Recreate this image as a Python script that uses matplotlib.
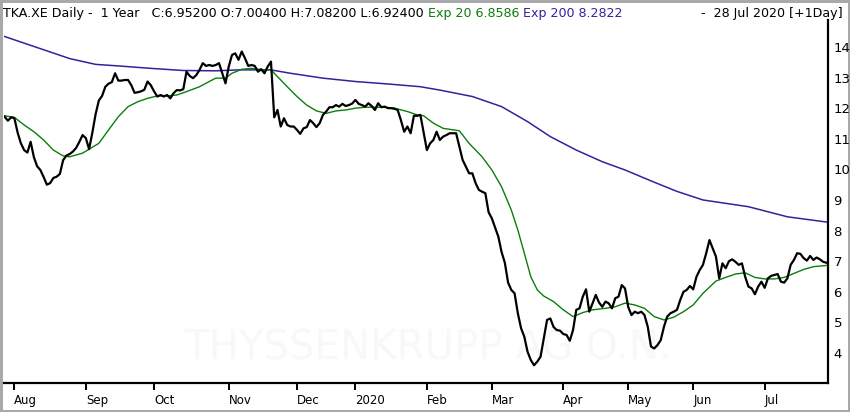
import matplotlib
matplotlib.use("Agg")
import matplotlib.pyplot as plt
import pandas as pd

# trading calendar (XETRA), 29 Jul 2019 .. 28 Jul 2020
holidays = ['2019-12-24', '2019-12-25', '2019-12-26', '2019-12-31',
            '2020-01-01', '2020-04-10', '2020-04-13', '2020-05-01']
days = pd.bdate_range('2019-07-29', '2020-07-28')
days = days[~days.isin(pd.to_datetime(holidays))]

# daily close
close = [
    11.72, 11.59, 11.70, 11.67, 11.20, 10.85, 10.63, 10.55, 10.90, 10.40,
    10.10, 9.98, 9.75, 9.50, 9.55, 9.72, 9.76, 9.85, 10.30, 10.45,
    10.50, 10.58, 10.70, 10.90, 11.12, 11.02, 10.66, 11.20, 11.80, 12.25,
    12.40, 12.70, 12.80, 12.85, 13.14, 12.90, 12.90, 12.92, 12.92, 12.75,
    12.50, 12.52, 12.55, 12.60, 12.87, 12.75, 12.55, 12.38, 12.43, 12.38,
    12.43, 12.32, 12.49, 12.59, 12.58, 12.62, 13.19, 13.05, 12.98, 13.08,
    13.25, 13.47, 13.38, 13.41, 13.38, 13.41, 13.47, 13.14, 12.81, 13.36,
    13.74, 13.79, 13.58, 13.85, 13.63, 13.38, 13.41, 13.38, 13.19, 13.27,
    13.14, 13.36, 13.52, 11.70, 11.94, 11.40, 11.67, 11.45, 11.40, 11.40,
    11.29, 11.16, 11.34, 11.38, 11.61, 11.51, 11.38, 11.51, 11.78, 11.89,
    12.03, 12.03, 12.10, 12.05, 12.14, 12.07, 12.10, 12.15, 12.27, 12.14,
    12.10, 12.05, 12.16, 12.07, 11.94, 12.16, 12.03, 12.05, 12.00, 12.00,
    11.98, 11.94, 11.61, 11.23, 11.40, 11.18, 11.75, 11.75, 11.78, 11.20,
    10.63, 10.85, 10.96, 11.23, 10.96, 11.07, 11.12, 11.18, 11.18, 11.18,
    10.74, 10.31, 10.09, 9.87, 9.87, 9.55, 9.33, 9.27, 9.22, 8.60,
    8.40, 8.10, 7.80, 7.30, 6.95, 6.30, 6.06, 5.95, 5.30, 4.81,
    4.53, 4.04, 3.77, 3.60, 3.72, 3.88, 4.48, 5.08, 5.13, 4.85,
    4.75, 4.73, 4.62, 4.59, 4.40, 4.75, 5.41, 5.46, 5.84, 6.08,
    5.35, 5.62, 5.90, 5.65, 5.51, 5.68, 5.62, 5.46, 5.79, 5.84,
    6.22, 6.11, 5.50, 5.24, 5.35, 5.30, 5.35, 5.24, 4.86, 4.21,
    4.15, 4.26, 4.42, 4.86, 5.19, 5.30, 5.35, 5.41, 5.73, 6.00,
    6.06, 6.19, 6.08, 6.49, 6.71, 6.88, 7.26, 7.69, 7.42, 7.15,
    6.44, 6.93, 6.77, 7.00, 7.06, 6.98, 6.88, 6.93, 6.49, 6.17,
    6.11, 5.92, 6.17, 6.33, 6.13, 6.44, 6.52, 6.55, 6.58, 6.33,
    6.30, 6.44, 6.88, 7.04, 7.26, 7.24, 7.10, 7.02, 7.17, 7.04,
    7.12, 7.06, 6.98, 6.95,
]

# Exp 20 line, read at trading-day index
ema20_day = [0, 3, 6, 9, 12, 15, 18, 20, 24, 26, 29, 32, 35, 38, 41, 44, 47, 50,
             53, 56, 60, 63, 65, 68, 70, 73, 76, 80, 82, 84, 87, 90, 93, 96, 99,
             102, 105, 108, 111, 114, 117, 120, 124, 127, 129, 132, 135, 140,
             143, 147, 150, 153, 156, 158, 160, 162, 164, 166, 169, 172, 175,
             178, 181, 185, 188, 191, 194, 197, 200, 203, 206, 209, 212, 215,
             219, 222, 225, 228, 231, 234, 237, 240, 243, 246, 249, 253]
ema20_val = [11.75, 11.70, 11.45, 11.23, 10.96, 10.63, 10.44, 10.41, 10.53, 10.66,
             10.85, 11.29, 11.72, 12.05, 12.21, 12.32, 12.40, 12.40, 12.43, 12.54,
             12.70, 12.87, 12.98, 12.98, 13.14, 13.27, 13.30, 13.25, 13.25, 13.03,
             12.70, 12.38, 12.10, 11.91, 11.83, 11.91, 11.94, 12.00, 12.03, 12.03,
             12.03, 12.00, 11.89, 11.78, 11.75, 11.51, 11.34, 11.26, 10.85, 10.41,
             9.98, 9.43, 8.67, 8.02, 7.26, 6.49, 6.06, 5.86, 5.68, 5.41,
             5.19, 5.32, 5.41, 5.46, 5.51, 5.63, 5.57, 5.46, 5.19, 5.08,
             5.17, 5.35, 5.57, 5.95, 6.35, 6.47, 6.58, 6.62, 6.47, 6.42,
             6.42, 6.47, 6.60, 6.73, 6.82, 6.86]

# Exp 200 line
ema200_day = [0, 10, 20, 28, 35, 45, 55, 65, 72, 82, 88, 98, 108, 118, 128, 134,
              144, 153, 161, 168, 176, 184, 191, 200, 207, 215, 229, 241, 253]
ema200_val = [14.34, 13.98, 13.62, 13.43, 13.38, 13.30, 13.23, 13.22, 13.25, 13.25,
              13.14, 12.98, 12.87, 12.79, 12.70, 12.59, 12.38, 12.05, 11.56, 11.07,
              10.63, 10.25, 9.98, 9.58, 9.28, 9.00, 8.78, 8.45, 8.28]

month_labels = ['Aug', 'Sep', 'Oct', 'Nov', 'Dec', '2020',
                'Feb', 'Mar', 'Apr', 'May', 'Jun', 'Jul']
y_ticks = [4, 5, 6, 7, 8, 9, 10, 11, 12, 13, 14]

GREEN = '#0b7d0b'
PURPLE = '#3a1f9c'

fig = plt.figure(figsize=(8.5, 4.12), dpi=100)
fig.patch.set_facecolor('white')
fig.patch.set_edgecolor('#a9a9a9')
fig.patch.set_linewidth(2.5)

ax = fig.add_axes([4 / 850, 29 / 412, 824 / 850, 363 / 412])
ax.set_facecolor('white')

x = list(range(len(close)))
ax.plot(ema200_day, ema200_val, color=PURPLE, lw=1.1, zorder=3)
ax.plot(ema20_day, ema20_val, color=GREEN, lw=1.0, zorder=3)
ax.plot(x, close, color='black', lw=1.6, zorder=4)

# faint watermark
ax.text(0.515, 0.096, 'THYSSENKRUPP AG O.N.', transform=ax.transAxes,
        ha='center', va='center', fontsize=29, color='#f8f8f8', zorder=1)

ax.set_xlim(-0.2, 253.5)
ax.set_ylim(3.02, 14.88)

# first trading day of each month
month_start = pd.Series(range(len(days)), index=days)
month_start = month_start.groupby([days.year, days.month]).first().tolist()[1:]
ax.set_xticks(month_start)
ax.set_xticklabels(month_labels, ha='left', fontsize=8.5)
ax.tick_params(axis='x', direction='out', length=5, width=1.4, pad=3)

ax.yaxis.tick_right()
ax.set_yticks(y_ticks)
ax.set_yticklabels([str(v) for v in y_ticks], fontsize=9.5)
ax.tick_params(axis='y', length=0, pad=4)

for side in ['top', 'left']:
    ax.spines[side].set_visible(False)
for side in ['bottom', 'right']:
    ax.spines[side].set_linewidth(1.6)

# header line
hy = 1 - 13 / 412
hfs = 9.1
t = fig.text(3 / 850, hy, 'TKA.XE Daily -  1 Year   C:6.95200 O:7.00400 H:7.08200 L:6.92400 ',
             fontsize=hfs, va='center', color='black')
t = ax.annotate('Exp 20 6.8586 ', xycoords=t, xy=(1, 0), va='bottom',
                fontsize=hfs, color=GREEN, annotation_clip=False)
t = ax.annotate('Exp 200 8.2822', xycoords=t, xy=(1, 0), va='bottom',
                fontsize=hfs, color=PURPLE, annotation_clip=False)
fig.text(843 / 850, hy, '-  28 Jul 2020 [+1Day]', fontsize=hfs, va='center',
         ha='right', color='black')

fig.savefig('out.png', dpi=100, facecolor=fig.get_facecolor(),
            edgecolor=fig.get_edgecolor())
